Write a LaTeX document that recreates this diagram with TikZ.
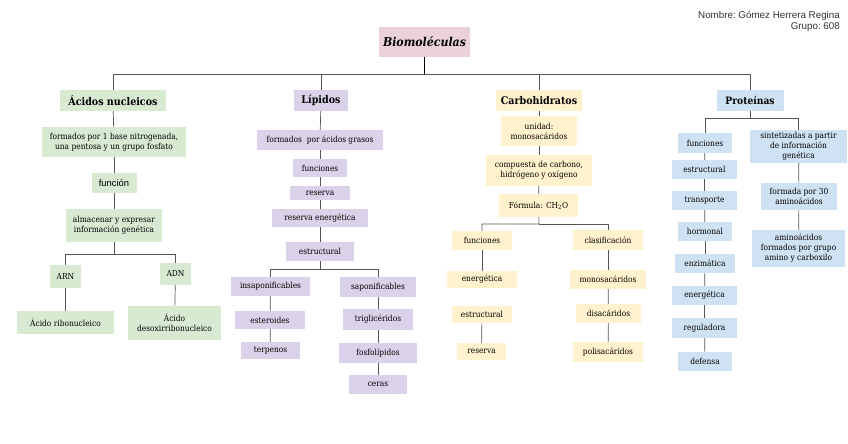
\documentclass[tikz,border=0pt]{standalone}
\usepackage{fontspec}
\setmainfont{DejaVu Serif Condensed}
\newfontfamily\sansf{Liberation Sans}
\newfontfamily\headf{DejaVu Serif Condensed}
\definecolor{cgreen}{HTML}{D9EAD3}
\definecolor{cpurple}{HTML}{D9D2E9}
\definecolor{cyellow}{HTML}{FFF2CC}
\definecolor{cblue}{HTML}{CFE2F3}
\definecolor{cpink}{HTML}{EAD1DC}
\definecolor{cline}{HTML}{555555}
\begin{document}
\begin{tikzpicture}[x=1pt,y=-1pt,
  bx/.style={inner sep=0pt, align=center, font=\fontsize{8.3}{10}\selectfont, text=black},
  gb/.style={bx, fill=cgreen},
  pb/.style={bx, fill=cpurple},
  yb/.style={bx, fill=cyellow},
  bb/.style={bx, fill=cblue},
  hd/.style={inner sep=0pt, align=center, font=\headf\bfseries\fontsize{10.6}{12}\selectfont},
  cn/.style={draw=cline, line width=0.7pt},
  sz/.style 2 args={minimum width=#1, minimum height=#2}]
\useasboundingbox (0,0) rectangle (848,444);
\fill[white] (0,0) rectangle (848,444);

% name
\node[anchor=north east, align=right, inner sep=0pt, font=\sansf\fontsize{9.8}{11.5}\selectfont, text=black!80] (nom) at (840,11) {Nombre:\ Gómez Herrera Regina\\Grupo:\ 608};

% title
\node[inner sep=0pt, fill=cpink, sz={91}{30}, font=\headf\bfseries\itshape\fontsize{12.2}{14}\selectfont] (bio) at (424.5,42) {Biomoléculas};

% headings
\node[hd, fill=cgreen, sz={106}{21}] (aci) at (113,100.5) {Ácidos nucleicos};
\node[hd, fill=cpurple, sz={54}{21}] (lip) at (321,100.5) {Lípidos};
\node[hd, fill=cyellow, sz={86}{21}] (car) at (539,100.5) {Carbohidratos};
\node[hd, fill=cblue, sz={67}{21}, font=\headf\bfseries\fontsize{10.2}{12}\selectfont] (pro) at (750,100.5) {Proteínas};

\coordinate (top) at (424.5,74);
\draw[black, line width=1pt] (bio.south) -- (top);
\draw[cn] (top) -| (aci.north);
\draw[cn] (top) -| (lip.north);
\draw[cn] (top) -| (car.north);
\draw[cn] (top) -| (pro.north);

% Acidos nucleicos
\node[gb, sz={144}{30}] (a1) at (114,142) {formados por 1 base nitrogenada,\\una pentosa y un grupo fosfato};
\node[gb, sz={45}{20}, font=\sansf\fontsize{9.4}{11}\selectfont] (a2) at (114,183) {función};
\node[gb, sz={96}{33}] (a3) at (114,225.5) {almacenar y expresar\\información genética};
\node[gb, sz={31}{23}] (a4) at (65.5,276.5) {ARN};
\node[gb, sz={31}{22}] (a5) at (175.5,274) {ADN};
\node[gb, sz={97}{23}] (a6) at (65.5,322.5) {Ácido ribonucleico};
\node[gb, sz={93}{34}] (a7) at (174.5,323) {Ácido\\desoxirribonucleico};
\draw[cn] (aci) -- (a1);
\draw[cn] (a1) -- (a2);
\draw[cn] (a2) -- (a3);
\coordinate (ab) at (114,254);
\draw[cn] (a3) -- (ab) -| (a4.north);
\draw[cn] (ab) -| (a5.north);
\draw[cn] (a4) -- (a6);
\draw[cn] (a5) -- (a7);

% Lipidos
\node[pb, sz={126}{20}] (l1) at (320,140) {formados\ \ por ácidos grasos};
\node[pb, sz={54}{18}] (l2) at (320,168) {funciones};
\node[pb, sz={60}{14}] (l3) at (320,193) {reserva};
\node[pb, sz={96}{18}] (l4) at (320,218) {reserva energética};
\node[pb, sz={68}{19}] (l5) at (320,251.5) {estructural};
\node[pb, sz={79}{19}] (l6) at (270.5,286.5) {insaponificables};
\node[pb, sz={76}{20}] (l7) at (378,287) {saponificables};
\node[pb, sz={70}{18}] (l8) at (270,320) {esteroides};
\node[pb, sz={59}{17}] (l9) at (270.5,350.5) {terpenos};
\node[pb, sz={70}{21}] (l10) at (378,319.5) {triglicéridos};
\node[pb, sz={78}{20}] (l11) at (378,353) {fosfolípidos};
\node[pb, sz={58}{19}] (l12) at (378,384.5) {ceras};
\draw[cn] (lip) -- (l1);
\draw[cn] (l1) -- (l2);
\draw[cn] (l2) -- (l3);
\draw[cn] (l3) -- (l4);
\draw[cn] (l4) -- (l5);
\coordinate (lb) at (320,269);
\draw[cn] (l5) -- (lb) -| (l6.north);
\draw[cn] (lb) -| (l7.north);
\draw[cn] (l6) -- (l8);
\draw[cn] (l8) -- (l9);
\draw[cn] (l7) -- (l10);
\draw[cn] (l10) -- (l11);
\draw[cn] (l11) -- (l12);

% Carbohidratos
\node[yb, sz={76}{30}] (c1) at (539,131) {unidad:\\monosacáridos};
\node[yb, sz={106}{31}] (c2) at (539,170.5) {compuesta de carbono,\\hidrógeno y oxígeno};
\node[yb, sz={79}{23}] (c3) at (538.5,205.5) {Fórmula: CH\textsubscript{2}O};
\node[yb, sz={60}{19}] (c4) at (482,240.5) {funciones};
\node[yb, sz={70}{20}] (c5) at (608,240) {clasificación};
\node[yb, sz={70}{17}] (c6) at (482,279.5) {energética};
\node[yb, sz={60}{17}] (c7) at (482,314.5) {estructural};
\node[yb, sz={49}{17}] (c8) at (481.5,351.5) {reserva};
\node[yb, sz={76}{19}] (c9) at (608,279.5) {monosacáridos};
\node[yb, sz={65}{19}] (c10) at (608.5,313.5) {disacáridos};
\node[yb, sz={70}{20}] (c11) at (608,352) {polisacáridos};
\draw[cn] (car) -- (c1);
\draw[cn] (c1) -- (c2);
\draw[cn] (c2) -- (c3);
\coordinate (cb) at (539,224);
\draw[cn] (c3) -- (cb) -| (c4.north);
\draw[cn] (cb) -| (c5.north);
\draw[cn] (c4) -- (c6);
\draw[cn] (c7) -- (c8);
\draw[cn] (c5) -- (c9);
\draw[cn] (c9) -- (c10);
\draw[cn] (c10) -- (c11);

% Proteinas
\node[bb, sz={54}{20}] (p1) at (705,143) {funciones};
\node[bb, sz={65}{19}] (p2) at (704.5,169.5) {estructural};
\node[bb, sz={65}{19}] (p3) at (704.5,200.5) {transporte};
\node[bb, sz={54}{19}] (p4) at (705,231.5) {hormonal};
\node[bb, sz={60}{19}] (p5) at (705,263.5) {enzimática};
\node[bb, sz={65}{19}] (p6) at (704.5,295.5) {energética};
\node[bb, sz={65}{20}] (p7) at (704.5,328) {reguladora};
\node[bb, sz={54}{19}] (p8) at (705,361.5) {defensa};
\node[bb, sz={97}{33}] (p9) at (798.5,146.5) {sintetizadas a partir\\de información\\genética};
\node[bb, sz={76}{27}] (p10) at (799,196.5) {formada por 30\\aminoácidos};
\node[bb, sz={93}{37}] (p11) at (798.5,248.5) {aminoácidos\\formados por grupo\\amino y carboxilo};
\coordinate (pb) at (750,118);
\draw[cn] (pro) -- (pb) -| (p1.north);
\draw[cn] (pb) -| (p9.north);
\draw[cn] (p1) -- (p2);
\draw[cn] (p2) -- (p3);
\draw[cn] (p3) -- (p4);
\draw[cn] (p4) -- (p5);
\draw[cn] (p5) -- (p6);
\draw[cn] (p6) -- (p7);
\draw[cn] (p7) -- (p8);
\draw[cn] (p9) -- (p10);
\draw[cn] (p10) -- (p11);
\end{tikzpicture}
\end{document}
